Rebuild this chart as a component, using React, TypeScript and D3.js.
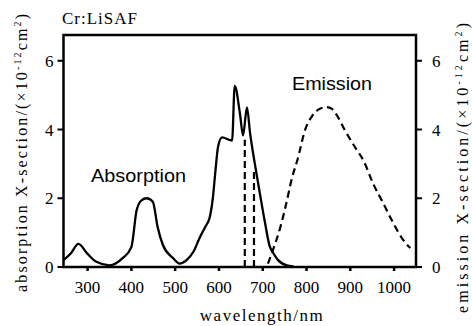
import React from "react";
import * as d3 from "d3";

// absorption spectrum (solid)
const absWavelength = [245, 262, 279, 300, 320, 350, 380, 400, 412, 423, 435, 449, 460, 472, 495, 510, 526, 542, 556, 568, 579, 586, 592, 598, 607, 630, 636, 648, 655, 664, 671, 682, 694, 705, 716, 722, 735, 755, 770];
const absValue = [0.2, 0.4, 0.67, 0.38, 0.15, 0.05, 0.26, 0.58, 1.65, 1.94, 2.0, 1.9, 1.16, 0.64, 0.26, 0.1, 0.2, 0.45, 0.85, 1.15, 1.45, 2.0, 2.8, 3.5, 3.77, 3.68, 5.27, 4.46, 3.83, 4.64, 3.9, 3.0, 2.1, 1.3, 0.6, 0.45, 0.2, 0.05, 0.02];

// emission spectrum (dashed)
const emWavelength = [712, 722, 740, 752, 767, 780, 797, 813, 830, 845, 858, 870, 888, 911, 930, 952, 975, 998, 1021, 1037];
const emValue = [0.1, 0.45, 1.15, 1.75, 2.6, 3.15, 4.0, 4.4, 4.6, 4.65, 4.6, 4.4, 3.97, 3.48, 3.1, 2.43, 1.86, 1.28, 0.78, 0.55];

// the two dashed vertical lines under the absorption peak
const spikeWavelength = [659, 680];
const spikeTop = [3.7, 2.8];

const xTicks = [300, 400, 500, 600, 700, 800, 900, 1000];
const yTicks = [0, 2, 4, 6];

const serif = { fontFamily: "'Liberation Serif', 'DejaVu Serif', serif" };
const sans = { fontFamily: "'Liberation Sans', Arial, sans-serif" };

export default function App() {
  const W = 472, H = 326;
  const left = 63.5, right = 416, top = 35, bottom = 267;

  const x = d3.scaleLinear().domain([245, 1050]).range([left, right]);
  const y = d3.scaleLinear().domain([0, 6.75]).range([bottom, top]);

  const line = d3.line<[number, number]>()
    .x(d => x(d[0]))
    .y(d => y(d[1]))
    .curve(d3.curveMonotoneX);

  const absPath = line(absWavelength.map((w, i) => [w, absValue[i]]));
  const emPath = line(emWavelength.map((w, i) => [w, emValue[i]]));
  const spikePaths = spikeWavelength.map((w, i) =>
    d3.line<[number, number]>().x(d => x(d[0])).y(d => y(d[1]))([[w, 0], [w, spikeTop[i]]])
  );

  return (
    <svg width={W} height={H} style={{ position: "absolute", left: 0, top: 0, background: "#fff" }}>
      <rect x={0} y={0} width={W} height={H} fill="#fff" />

      {/* curves */}
      <path d={absPath!} fill="none" stroke="#000" strokeWidth={2.3} strokeLinejoin="round" />
      <path d={emPath!} fill="none" stroke="#000" strokeWidth={2.2} strokeDasharray="7 4.5" />
      {spikePaths.map((p, i) => (
        <path key={i} d={p!} fill="none" stroke="#000" strokeWidth={2.2} strokeDasharray="7 4" />
      ))}

      {/* frame */}
      <rect x={left} y={top} width={right - left} height={bottom - top} fill="none" stroke="#000" strokeWidth={2.5} />

      {/* bottom ticks */}
      {xTicks.map(t => (
        <g key={t}>
          <line x1={x(t)} x2={x(t)} y1={bottom} y2={bottom + 4} stroke="#000" strokeWidth={2.5} />
          <text x={x(t)} y={bottom + 26} textAnchor="middle" style={serif} fontSize={17}>{t}</text>
        </g>
      ))}

      {/* left and right ticks */}
      {yTicks.map(t => (
        <g key={t}>
          <line x1={left - 6} x2={left} y1={y(t)} y2={y(t)} stroke="#000" strokeWidth={2} />
          <text x={left - 10} y={y(t) + 6} textAnchor="end" style={serif} fontSize={17}>{t}</text>
          <line x1={right} x2={right + 6} y1={y(t)} y2={y(t)} stroke="#000" strokeWidth={2} />
          <text x={right + 16} y={y(t) + 6} textAnchor="start" style={serif} fontSize={17}>{t}</text>
        </g>
      ))}

      {/* titles */}
      <text x={62} y={24} style={serif} fontSize={17} letterSpacing={1}>Cr:LiSAF</text>
      <text x={262} y={321} textAnchor="middle" style={serif} fontSize={17} letterSpacing={1.5}>wavelength/nm</text>

      <text transform="translate(27,153) rotate(-90)" textAnchor="middle" style={serif} fontSize={16}
        textLength={278} lengthAdjust="spacing">
        absorption X-section/(×10<tspan dy={-6} fontSize={10}>-12</tspan><tspan dy={6}>cm</tspan><tspan dy={-6} fontSize={10}>2</tspan><tspan dy={6}>)</tspan>
      </text>
      <text transform="translate(468,168) rotate(-90)" textAnchor="middle" style={serif} fontSize={16}
        textLength={290} lengthAdjust="spacing">
        emission X-section/(×10<tspan dy={-6} fontSize={10}>-12</tspan><tspan dy={6}>cm</tspan><tspan dy={-6} fontSize={10}>2</tspan><tspan dy={6}>)</tspan>
      </text>

      {/* annotations */}
      <text x={91} y={182} style={sans} fontSize={19} textLength={95} lengthAdjust="spacingAndGlyphs">Absorption</text>
      <text x={292} y={90} style={sans} fontSize={19} textLength={80} lengthAdjust="spacingAndGlyphs">Emission</text>
    </svg>
  );
}
